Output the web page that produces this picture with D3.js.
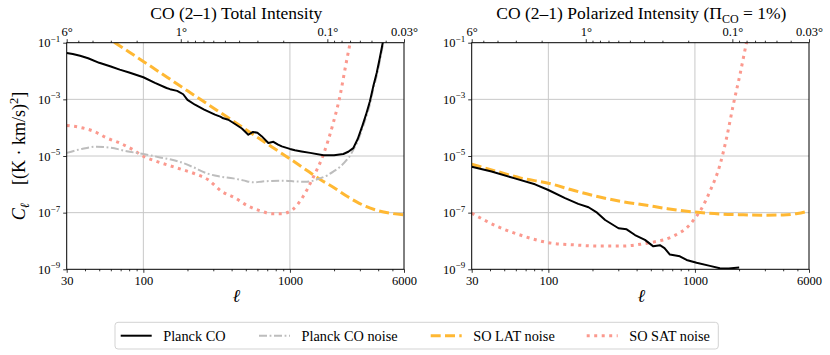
<!DOCTYPE html>
<html>
<head>
<meta charset="utf-8">
<script src="https://cdn.jsdelivr.net/npm/d3@7"></script>
<style>
  body { margin: 0; background: #fff; }
  text { font-family: "Liberation Serif", "Times New Roman", serif; fill: #000; }
</style>
</head>
<body>
<svg width="830" height="355"></svg>
<script>
// CO (2-1) power spectra (stored as log10 C_ell)

// left panel: total intensity
const ellTT = [30,33,37,42,50,60,69,80,100,120,144,152,170,187,200,225,260,308,335,351,380,422,470,520,560,600,641,712,771,830,880,1000,1082,1200,1374,1692,2000,2314,2500,2705,2900,3085,3300,3513,3700,3907,4100,4295,4500];
const planckTT = [-1.36,-1.40,-1.46,-1.55,-1.71,-1.84,-1.95,-2.05,-2.22,-2.42,-2.60,-2.64,-2.70,-2.82,-3.02,-3.19,-3.36,-3.54,-3.61,-3.67,-3.72,-3.87,-4.03,-4.25,-4.15,-4.18,-4.30,-4.54,-4.50,-4.60,-4.66,-4.75,-4.80,-4.84,-4.89,-4.97,-4.97,-4.93,-4.85,-4.72,-4.40,-4.01,-3.55,-3.07,-2.55,-2.07,-1.55,-1.01,-0.5];

const ellNoiseTT = [30,38,48,60,77,100,130,178,220,270,330,411,480,562,650,750,901,1100,1300,1603,1800,1977,2200,2439,2600,2705,2900,3085,3300,3513,3700,3907,4100,4295,4500];
const planckNoiseTT = [-4.89,-4.75,-4.67,-4.71,-4.83,-4.93,-5.05,-5.21,-5.40,-5.61,-5.72,-5.79,-5.86,-5.93,-5.90,-5.88,-5.87,-5.90,-5.91,-5.79,-5.68,-5.55,-5.38,-5.14,-4.95,-4.78,-4.48,-4.10,-3.65,-3.17,-2.65,-2.17,-1.65,-1.11,-0.6];

const ellLatTT = [30,64,100,200,400,600,1000,1300,1600,2000,2500,2850,3300,4000,5000,6000];
const latTT = [0.14,-1.0,-1.66,-2.70,-3.73,-4.34,-5.10,-5.50,-5.82,-6.12,-6.45,-6.62,-6.78,-6.93,-7.03,-7.08];

const ellSatTT = [30,37,46,56,69,85,100,123,169,225,277,342,422,520,641,751,880,1000,1055,1233,1443,1690,1978,2197,2372,2540,2700];
const satTT = [-3.92,-3.99,-4.13,-4.36,-4.54,-4.78,-5.01,-5.19,-5.42,-5.63,-5.84,-6.25,-6.48,-6.77,-6.95,-7.04,-7.04,-6.95,-6.87,-6.42,-5.75,-4.95,-3.82,-2.87,-1.95,-1.16,-0.5];

// right panel: polarized intensity (Pi_CO = 1%)
const ellPol = [30,41,59,81,100,130,160,188,215,244,301,342,390,456,520,577,620,675,789,877,1026,1265,1479,1700,2004];
const planckPol = [-5.38,-5.55,-5.79,-6.00,-6.20,-6.49,-6.69,-6.81,-7.00,-7.26,-7.55,-7.59,-7.79,-7.96,-8.19,-8.15,-8.25,-8.48,-8.54,-8.67,-8.77,-8.88,-8.96,-8.97,-8.94];

const ellLatPol = [30,45,65,100,150,220,320,456,650,1000,1500,2000,3000,4000,5000,6000];
const latPol = [-5.29,-5.55,-5.78,-5.96,-6.22,-6.44,-6.61,-6.73,-6.86,-6.98,-7.05,-7.07,-7.09,-7.08,-7.03,-6.94];

const ellSatPol = [30,45,67,100,152,219,316,433,520,713,925,1000,1082,1265,1482,1644,1827,2028,2228,2400];
const satPol = [-7.02,-7.49,-7.82,-8.06,-8.14,-8.18,-8.18,-8.11,-8.04,-7.83,-7.42,-7.20,-6.95,-6.25,-5.31,-4.36,-3.19,-2.13,-1.09,-0.3];

// axis ticks
const ellTicks = [30, 100, 1000, 6000];
const ellMinor = [40,50,60,70,80,90,200,300,400,500,600,700,800,900,2000,3000,4000,5000];
const clTicks = [1e-1, 1e-3, 1e-5, 1e-7, 1e-9];
const clExp = ["−1", "−3", "−5", "−7", "−9"];
const degTicks = [6, 1, 0.1, 0.03];
const degLabels = ["6°", "1°", "0.1°", "0.03°"];
const degMinor = [5,4,3,2,0.9,0.8,0.7,0.6,0.5,0.4,0.3,0.2,0.09,0.08,0.07,0.06,0.05,0.04];

const legendNames = ["Planck CO", "Planck CO noise", "SO LAT noise", "SO SAT noise"];

// styles
const styles = {
  planck: { color: "#000", width: 2, dash: null },
  noise:  { color: "#bdbdbd", width: 2, dash: "8,2.6,1.8,2.6" },
  lat:    { color: "#ffb833", width: 3, dash: "10,4.3" },
  sat:    { color: "#fb998e", width: 3, dash: "3,4.5" }
};

var svg = d3.select("svg");
var pw = 337.3, plotTop = 42.7, plotBottom = 269.3;

var panels = [
  { x0: 66.7, id: "a", title: [["CO (2–1) Total Intensity"]],
    series: [
      [ellSatTT, satTT, "sat"],
      [ellLatTT, latTT, "lat"],
      [ellNoiseTT, planckNoiseTT, "noise"],
      [ellTT, planckTT, "planck"]
    ] },
  { x0: 471.7, id: "b", title: [["CO (2–1) Polarized Intensity (Π"], ["CO", "sub"], [" = 1%)"]],
    series: [
      [ellSatPol, satPol, "sat"],
      [ellLatPol, latPol, "lat"],
      [ellPol, planckPol, "planck"]
    ] }
];

panels.forEach(function(p) {
  var x = d3.scaleLog().domain([30, 6000]).range([p.x0, p.x0 + pw]);
  var y = d3.scaleLog().domain([1e-9, 1e-1]).range([plotBottom, plotTop]);
  var xt = d3.scaleLog().domain([6, 0.03]).range([p.x0, p.x0 + pw]);
  var g = svg.append("g");

  svg.append("clipPath").attr("id", "clip" + p.id)
    .append("rect").attr("x", p.x0).attr("y", plotTop).attr("width", pw).attr("height", plotBottom - plotTop);

  // grid
  g.selectAll(".vgrid").data([100, 1000]).enter().append("line")
    .attr("x1", d => x(d)).attr("x2", d => x(d)).attr("y1", plotTop).attr("y2", plotBottom)
    .attr("stroke", "#c8c8c8").attr("stroke-width", 1);
  g.selectAll(".hgrid").data([1e-3, 1e-5, 1e-7]).enter().append("line")
    .attr("x1", p.x0).attr("x2", p.x0 + pw).attr("y1", d => y(d)).attr("y2", d => y(d))
    .attr("stroke", "#c8c8c8").attr("stroke-width", 1);

  // curves
  var line = d3.line()
    .x(d => x(d[0]))
    .y(d => y(Math.pow(10, d[1])));
  var lines = g.append("g").attr("clip-path", "url(#clip" + p.id + ")");
  p.series.forEach(function(s) {
    var st = styles[s[2]];
    var pts = s[0].map((e, i) => [e, s[1][i]]);
    lines.append("path")
      .attr("d", line.curve(s[2] == "planck" ? d3.curveLinear : d3.curveMonotoneX)(pts))
      .attr("fill", "none")
      .attr("stroke", st.color)
      .attr("stroke-width", st.width)
      .attr("stroke-dasharray", st.dash)
      .attr("stroke-linejoin", "round");
  });

  // bottom axis
  var xa = g.append("g").attr("transform", "translate(0," + plotBottom + ")")
    .call(d3.axisBottom(x).tickValues(ellTicks).tickFormat(d3.format("d")).tickSize(3.5).tickPadding(3.5));
  var xm = g.append("g").attr("transform", "translate(0," + plotBottom + ")")
    .call(d3.axisBottom(x).tickValues(ellMinor).tickFormat("").tickSize(2));
  // top axis (angular scale)
  var ta = g.append("g").attr("transform", "translate(0," + plotTop + ")")
    .call(d3.axisTop(xt).tickValues(degTicks).tickFormat((d, i) => degLabels[i]).tickSize(3.5).tickPadding(3));
  var tm = g.append("g").attr("transform", "translate(0," + plotTop + ")")
    .call(d3.axisTop(xt).tickValues(degMinor).tickFormat("").tickSize(2));
  // left axis
  var ya = g.append("g").attr("transform", "translate(" + p.x0 + ",0)")
    .call(d3.axisLeft(y).tickValues(clTicks).tickFormat("").tickSize(3.5));

  [xa, xm, ta, tm, ya].forEach(function(a) {
    a.attr("font-family", null).attr("font-size", 12.5);
    a.select(".domain").remove();
    a.selectAll("line").attr("stroke", "#000").attr("stroke-width", 0.8);
    a.selectAll("text").style("font-family", "'Liberation Serif', serif");
  });

  // y tick labels 10^-n
  var yl = g.selectAll(".ylab").data(clTicks).enter().append("text")
    .attr("x", p.x0 - 6.5).attr("y", d => y(d) + 4.5)
    .attr("text-anchor", "end").attr("font-size", 12.5);
  yl.append("tspan").text("10");
  yl.append("tspan").attr("dy", -5.5).attr("font-size", 9).text((d, i) => clExp[i]);

  // frame
  g.append("rect").attr("x", p.x0).attr("y", plotTop).attr("width", pw).attr("height", plotBottom - plotTop)
    .attr("fill", "none").attr("stroke", "#000").attr("stroke-width", 1);

  // title
  var t = g.append("text").attr("x", p.x0 + pw / 2 + 1).attr("y", 19)
    .attr("text-anchor", "middle").attr("font-size", 17.5);
  p.title.forEach(function(part) {
    var ts = t.append("tspan").text(part[0]);
    if (part[1] == "sub") {
      ts.attr("font-size", 12).attr("dy", 4);
    } else if (t.selectAll("tspan").size() > 1) {
      ts.attr("dy", -4);
    }
  });

  // x label
  g.append("text").attr("x", p.x0 + pw / 2 + 1).attr("y", 302)
    .attr("text-anchor", "middle").attr("font-size", 18).attr("font-style", "italic")
    .text("ℓ");
});

// y label
var ylab = svg.append("text")
  .attr("transform", "translate(25,156) rotate(-90)")
  .attr("text-anchor", "middle").attr("font-size", 18);
ylab.append("tspan").attr("font-style", "italic").text("C");
ylab.append("tspan").attr("font-style", "italic").attr("font-size", 12.5).attr("dy", 4).text("ℓ");
ylab.append("tspan").attr("dy", -4).text("\u2002\u2002[(K · km/s)");
ylab.append("tspan").attr("dy", -7).attr("font-size", 12.5).text("2");
ylab.append("tspan").attr("dy", 7).text("]");

// legend
var legend = svg.append("g");
legend.append("rect")
  .attr("x", 115).attr("y", 322.3).attr("width", 603.3).attr("height", 26.7)
  .attr("rx", 3).attr("fill", "#fff").attr("stroke", "#d3d3d3").attr("stroke-width", 1);
var legX = [120.7, 259, 430.7, 586.7];
var legKeys = ["planck", "noise", "lat", "sat"];
var legItem = legend.selectAll(".leg").data(legendNames).enter().append("g")
  .attr("transform", (d, i) => "translate(" + legX[i] + ",335.7)");
legItem.append("line")
  .attr("x1", 0).attr("x2", 31).attr("y1", 0).attr("y2", 0)
  .attr("stroke", (d, i) => styles[legKeys[i]].color)
  .attr("stroke-width", (d, i) => styles[legKeys[i]].width)
  .attr("stroke-dasharray", (d, i) => styles[legKeys[i]].dash);
legItem.append("text")
  .attr("x", 42.5).attr("y", 4.8).attr("font-size", 14.3)
  .text(d => d);
</script>
</body>
</html>
